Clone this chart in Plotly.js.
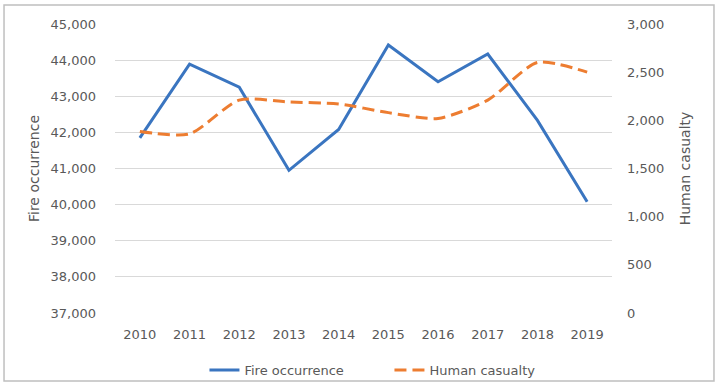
<!DOCTYPE html>
<html>
<head>
<meta charset="utf-8">
<script src="https://cdn.plot.ly/plotly-3.0.1.min.js"></script>
<style>html,body{margin:0;padding:0;background:#fff;}#chart{width:722px;height:385px;}</style>
</head>
<body>
<div id="chart"></div>
<script>
const years = ["2010","2011","2012","2013","2014","2015","2016","2017","2018","2019"];
const fireOccurrence = [41850, 43890, 43250, 40950, 42080, 44420, 43400, 44170, 42330, 40080];
const humanCasualty = [1885, 1860, 2210, 2190, 2170, 2080, 2020, 2210, 2600, 2500];
const leftTicks = [37000, 38000, 39000, 40000, 41000, 42000, 43000, 44000, 45000];
const rightTicks = [0, 500, 1000, 1500, 2000, 2500, 3000];

const txt = '#595959';
const fontFam = '"DejaVu Sans", sans-serif';

const traces = [
  {x: years, y: fireOccurrence, type: 'scatter', mode: 'lines', name: 'Fire occurrence',
   line: {color: '#3A75C0', width: 3}, yaxis: 'y'},
  {x: years, y: humanCasualty, type: 'scatter', mode: 'lines', name: 'Human casualty',
   line: {color: '#ED7D31', width: 3, dash: '12px,6px', shape: 'spline', smoothing: 0.7}, yaxis: 'y2'}
];

const layout = {
  width: 722, height: 385,
  margin: {l: 115, r: 110, t: 24, b: 72, autoexpand: false},
  paper_bgcolor: '#ffffff', plot_bgcolor: '#ffffff',
  font: {family: fontFam, size: 13, color: txt},
  showlegend: true,
  legend: {orientation: 'h', x: 0.180, xanchor: 'left', y: -0.197, yanchor: 'middle',
           entrywidth: 140, entrywidthmode: 'pixels',
           bgcolor: 'rgba(0,0,0,0)', font: {size: 13, color: txt}, tracegroupgap: 0},
  xaxis: {type: 'category', range: [-0.5, 9.5], showgrid: false, zeroline: false, showline: false, ticks: '',
          tickfont: {size: 13, color: txt}, ticklabelstandoff: 12},
  yaxis: {range: [37000, 45000], tickvals: leftTicks, tickformat: ',d', showgrid: true,
          gridcolor: '#d9d9d9', gridwidth: 1, zeroline: false, showline: false, ticks: '',
          tickfont: {size: 13, color: txt}, ticklabelstandoff: 18,
          title: {text: 'Fire occurrence', font: {size: 14, color: txt}, standoff: 7}},
  yaxis2: {range: [0, 3000], tickvals: rightTicks, tickformat: ',d', overlaying: 'y', side: 'right',
           showgrid: false, zeroline: false, showline: false, ticks: '',
           tickfont: {size: 13, color: txt}, ticklabelstandoff: 14,
           title: {text: 'Human casualty', font: {size: 14, color: txt}, standoff: 16}},
  shapes: [
    {type: 'rect', xref: 'paper', yref: 'paper', x0: -0.2233, x1: 1.2052, y0: -0.2353, y1: 1.0657,
     line: {color: '#bfbfbf', width: 1.5}, fillcolor: 'rgba(0,0,0,0)', layer: 'below'}
  ]
};

Plotly.newPlot('chart', traces, layout, {displayModeBar: false, staticPlot: true});
</script>
</body>
</html>
